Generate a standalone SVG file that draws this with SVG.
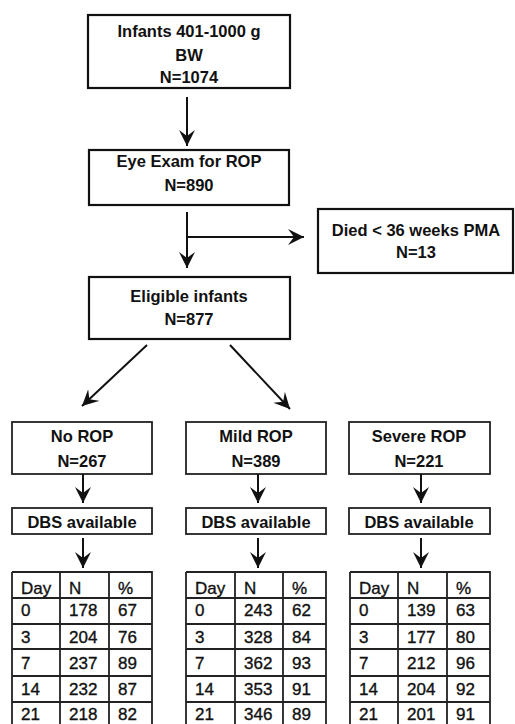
<svg xmlns="http://www.w3.org/2000/svg" width="515" height="724" viewBox="0 0 515 724">
  <style>
    .box { fill: #ffffff; stroke: #111111; stroke-width: 2.2; }
    .sbox { fill: #ffffff; stroke: #222222; stroke-width: 1.8; }
    .grid { fill: none; stroke: #222222; stroke-width: 1.8; }
    .t { font-family: "Liberation Sans", Arial, sans-serif; font-size: 16.5px; font-weight: bold; fill: #111111; text-anchor: middle; }
    .c { font-family: "Liberation Sans", Arial, sans-serif; font-size: 17px; fill: #111111; stroke: #111111; stroke-width: 0.35; }
    .arr { stroke: #111111; stroke-width: 2; fill: none; marker-end: url(#head); }
  </style>
  <defs>
    <marker id="head" markerUnits="userSpaceOnUse" markerWidth="17" markerHeight="17" refX="16" refY="8.5" orient="auto" viewBox="0 0 17 17">
      <path d="M0,0.5 L16,8.5 L0,16.5 L6,8.5 Z" fill="#111111"/>
    </marker>
  </defs>

  <rect width="515" height="724" fill="#ffffff"/>

  <!-- flow nodes -->
  <g id="infants">
    <rect class="box" x="88" y="15" width="202" height="73"/>
    <text class="t" x="189" y="37">Infants 401-1000 g</text>
    <text class="t" x="189" y="61">BW</text>
    <text class="t" x="189" y="83">N=1074</text>
  </g>

  <g id="eye-exam">
    <rect class="box" x="89" y="150" width="200" height="55"/>
    <text class="t" x="189" y="167">Eye Exam for ROP</text>
    <text class="t" x="189" y="191">N=890</text>
  </g>

  <g id="died">
    <rect class="box" x="318" y="209" width="195" height="64"/>
    <text class="t" x="416" y="236">Died &lt; 36 weeks PMA</text>
    <text class="t" x="416" y="258">N=13</text>
  </g>

  <g id="eligible">
    <rect class="box" x="89" y="277" width="201" height="62"/>
    <text class="t" x="189" y="302">Eligible infants</text>
    <text class="t" x="189" y="325">N=877</text>
  </g>

  <g id="no-rop">
    <rect class="sbox" x="12" y="422" width="140" height="52"/>
    <text class="t" x="82" y="442">No ROP</text>
    <text class="t" x="82" y="467">N=267</text>
  </g>

  <g id="mild-rop">
    <rect class="sbox" x="186" y="422" width="140" height="52"/>
    <text class="t" x="256" y="442">Mild ROP</text>
    <text class="t" x="256" y="467">N=389</text>
  </g>

  <g id="severe-rop">
    <rect class="sbox" x="349" y="422" width="141" height="52"/>
    <text class="t" x="419" y="442">Severe ROP</text>
    <text class="t" x="419" y="467">N=221</text>
  </g>

  <g id="dbs-no">
    <rect class="sbox" x="12" y="508" width="140" height="26"/>
    <text class="t" x="82" y="528">DBS available</text>
  </g>

  <g id="dbs-mild">
    <rect class="sbox" x="186" y="508" width="140" height="26"/>
    <text class="t" x="256" y="528">DBS available</text>
  </g>

  <g id="dbs-severe">
    <rect class="sbox" x="349" y="508" width="141" height="26"/>
    <text class="t" x="419" y="528">DBS available</text>
  </g>

  <!-- day-by-day tables -->
  <g id="table-no">
    <path class="grid" d="M12,572 H152 V730 M12,572 V730 M60,572 V730 M109,572 V730 M12,598 H152 M12,624 H152 M12,649 H152 M12,676 H152 M12,702 H152"/>
    <text class="c" y="594"><tspan x="21">Day</tspan><tspan x="69">N</tspan><tspan x="118">%</tspan></text>
    <text class="c" y="616"><tspan x="21">0</tspan><tspan x="69">178</tspan><tspan x="118">67</tspan></text>
    <text class="c" y="643"><tspan x="21">3</tspan><tspan x="69">204</tspan><tspan x="118">76</tspan></text>
    <text class="c" y="669"><tspan x="21">7</tspan><tspan x="69">237</tspan><tspan x="118">89</tspan></text>
    <text class="c" y="695"><tspan x="21">14</tspan><tspan x="69">232</tspan><tspan x="118">87</tspan></text>
    <text class="c" y="720"><tspan x="21">21</tspan><tspan x="69">218</tspan><tspan x="118">82</tspan></text>
  </g>

  <g id="table-mild">
    <path class="grid" d="M186,572 H326 V730 M186,572 V730 M235,572 V730 M283,572 V730 M186,598 H326 M186,624 H326 M186,649 H326 M186,676 H326 M186,702 H326"/>
    <text class="c" y="594"><tspan x="195">Day</tspan><tspan x="244">N</tspan><tspan x="292">%</tspan></text>
    <text class="c" y="616"><tspan x="195">0</tspan><tspan x="244">243</tspan><tspan x="292">62</tspan></text>
    <text class="c" y="643"><tspan x="195">3</tspan><tspan x="244">328</tspan><tspan x="292">84</tspan></text>
    <text class="c" y="669"><tspan x="195">7</tspan><tspan x="244">362</tspan><tspan x="292">93</tspan></text>
    <text class="c" y="695"><tspan x="195">14</tspan><tspan x="244">353</tspan><tspan x="292">91</tspan></text>
    <text class="c" y="720"><tspan x="195">21</tspan><tspan x="244">346</tspan><tspan x="292">89</tspan></text>
  </g>

  <g id="table-severe">
    <path class="grid" d="M350,572 H490 V730 M350,572 V730 M398,572 V730 M447,572 V730 M350,598 H490 M350,624 H490 M350,649 H490 M350,676 H490 M350,702 H490"/>
    <text class="c" y="594"><tspan x="359">Day</tspan><tspan x="407">N</tspan><tspan x="456">%</tspan></text>
    <text class="c" y="616"><tspan x="359">0</tspan><tspan x="407">139</tspan><tspan x="456">63</tspan></text>
    <text class="c" y="643"><tspan x="359">3</tspan><tspan x="407">177</tspan><tspan x="456">80</tspan></text>
    <text class="c" y="669"><tspan x="359">7</tspan><tspan x="407">212</tspan><tspan x="456">96</tspan></text>
    <text class="c" y="695"><tspan x="359">14</tspan><tspan x="407">204</tspan><tspan x="456">92</tspan></text>
    <text class="c" y="720"><tspan x="359">21</tspan><tspan x="407">201</tspan><tspan x="456">91</tspan></text>
  </g>

  <!-- connectors -->
  <g id="connectors">
    <line class="arr" x1="187" y1="97" x2="187" y2="146"/>
    <line class="arr" x1="187" y1="212" x2="187" y2="268"/>
    <line class="arr" x1="187" y1="237" x2="304" y2="237"/>
    <line class="arr" x1="147" y1="345" x2="82" y2="406"/>
    <line class="arr" x1="230" y1="345" x2="290" y2="409"/>
    <line class="arr" x1="83" y1="474" x2="83" y2="503"/>
    <line class="arr" x1="258" y1="474" x2="258" y2="503"/>
    <line class="arr" x1="421" y1="474" x2="421" y2="503"/>
    <line class="arr" x1="83" y1="538" x2="83" y2="568"/>
    <line class="arr" x1="258" y1="538" x2="258" y2="568"/>
    <line class="arr" x1="421" y1="538" x2="421" y2="568"/>
  </g>
</svg>
